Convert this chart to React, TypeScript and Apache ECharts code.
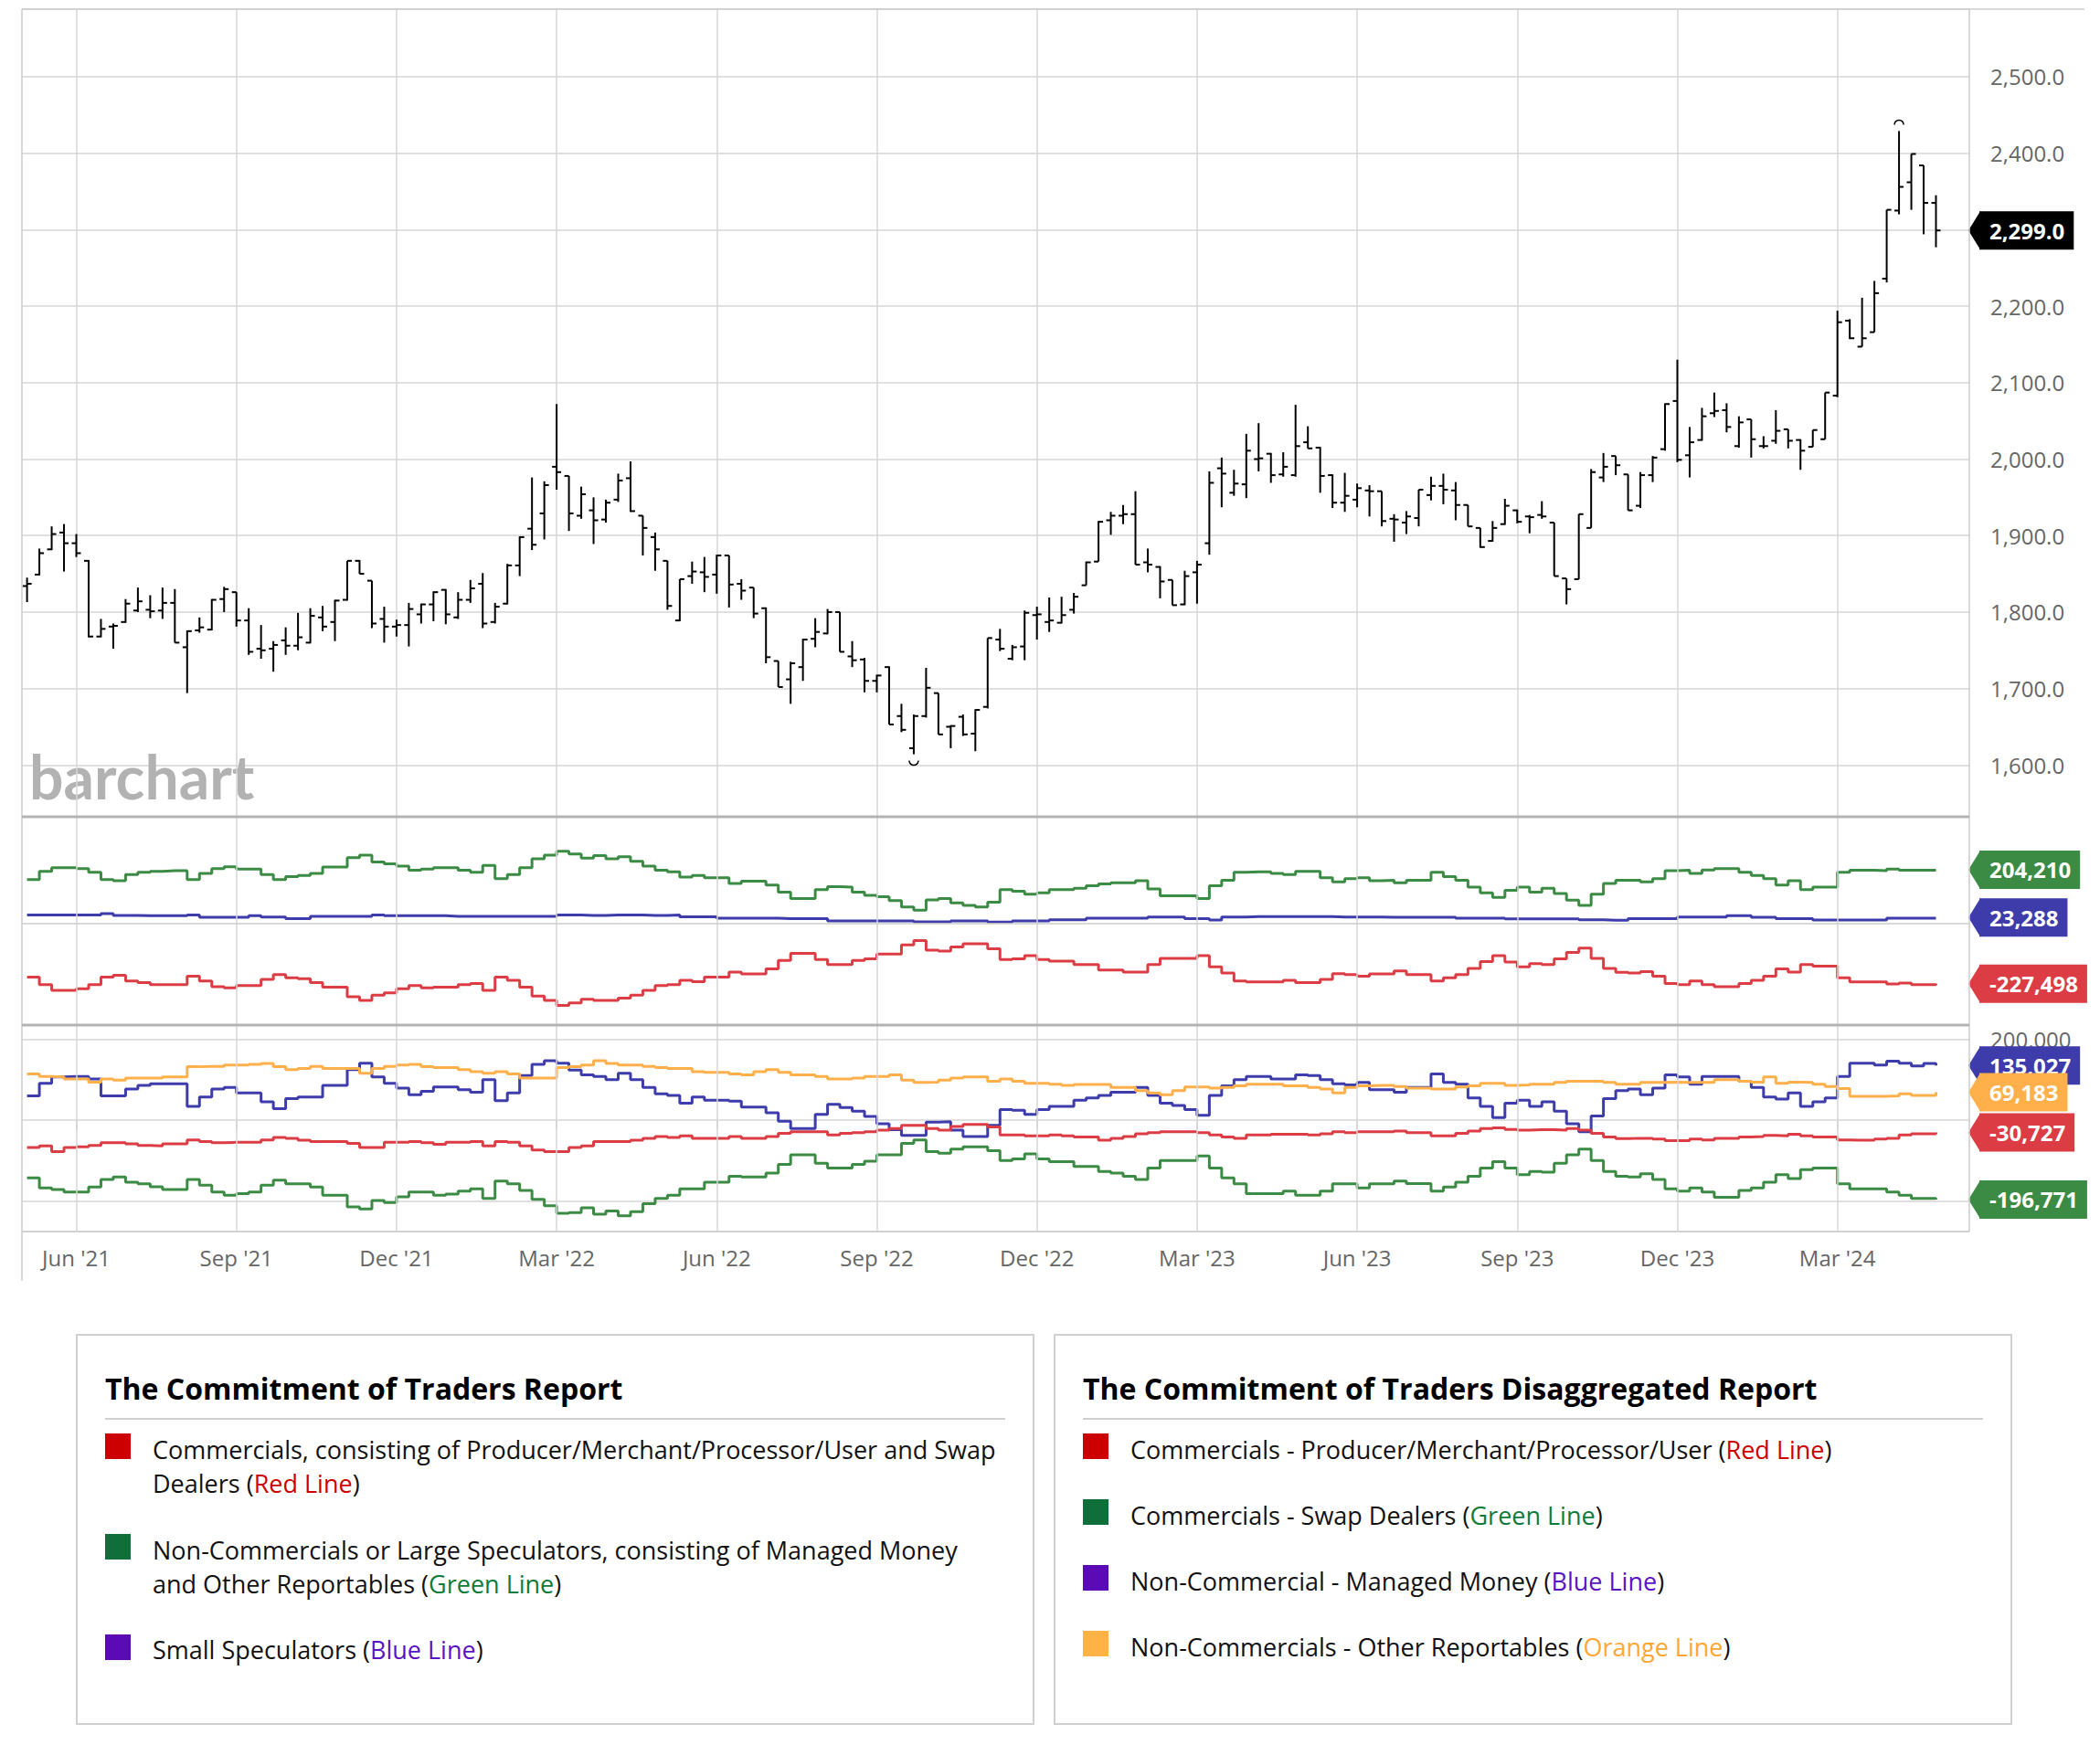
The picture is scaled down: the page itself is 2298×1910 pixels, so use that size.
import React, { useEffect, useRef } from 'react';
import * as echarts from 'echarts';

const DAY = 86400000;

// weekly bars, dated by the Friday that ends each week (first: 7 May 2021)
const firstWeek = Date.UTC(2021, 4, 7);
const xMin = Date.UTC(2021, 5, 4) - 30.91 * DAY;
const xMax = Date.UTC(2024, 2, 1) + 74.96 * DAY;

// grid lines sit on the first weekly bar of each quarter month
const tickDates = [
  Date.UTC(2021, 5, 4), Date.UTC(2021, 8, 3), Date.UTC(2021, 11, 3), Date.UTC(2022, 2, 4),
  Date.UTC(2022, 5, 3), Date.UTC(2022, 8, 2), Date.UTC(2022, 11, 2), Date.UTC(2023, 2, 3),
  Date.UTC(2023, 5, 2), Date.UTC(2023, 8, 1), Date.UTC(2023, 11, 1), Date.UTC(2024, 2, 1),
];
const tickLabels = [
  "Jun '21", "Sep '21", "Dec '21", "Mar '22", "Jun '22", "Sep '22",
  "Dec '22", "Mar '23", "Jun '23", "Sep '23", "Dec '23", "Mar '24",
];

// gold futures, weekly OHLC
const opens = [
  1834, 1849, 1882, 1904, 1890, 1867, 1768, 1781, 1787, 1802,
  1803, 1802, 1812, 1754, 1776, 1777, 1817, 1826, 1789, 1752,
  1752, 1763, 1756, 1760, 1793, 1787, 1816, 1867, 1841, 1791,
  1781, 1783, 1797, 1810, 1829, 1793, 1816, 1837, 1787, 1811,
  1861, 1909, 1929, 1990, 1978, 1926, 1933, 1921, 1947, 1975,
  1926, 1898, 1867, 1789, 1847, 1852, 1849, 1874, 1837, 1832,
  1805, 1736, 1712, 1728, 1765, 1772, 1800, 1742, 1738, 1710,
  1728, 1664, 1622, 1664, 1694, 1650, 1663, 1641, 1676, 1764,
  1739, 1755, 1796, 1787, 1786, 1803, 1835, 1866, 1920, 1926,
  1928, 1865, 1859, 1842, 1810, 1852, 1890, 1988, 1956, 1967,
  2000, 2007, 1980, 1979, 2022, 2015, 1979, 1943, 1947, 1959,
  1958, 1922, 1917, 1923, 1953, 1965, 1959, 1940, 1910, 1893,
  1915, 1933, 1925, 1927, 1917, 1844, 1843, 1910, 1976, 2004,
  1980, 1939, 1979, 2013, 2076, 2005, 2025, 2060, 2064, 2017,
  2052, 2017, 2024, 2039, 2025, 2016, 2026, 2083, 2181, 2147,
  2166, 2236, 2325, 2362, 2384, 2335,
];
const highs = [
  1845, 1883, 1912, 1915, 1902, 1868, 1791, 1785, 1817, 1832,
  1822, 1832, 1830, 1776, 1793, 1817, 1833, 1826, 1805, 1783,
  1762, 1780, 1799, 1805, 1808, 1816, 1867, 1868, 1841, 1807,
  1790, 1812, 1811, 1827, 1830, 1826, 1842, 1851, 1812, 1863,
  1899, 1976, 1971, 2072, 1978, 1964, 1950, 1947, 1981, 1997,
  1926, 1904, 1867, 1843, 1866, 1872, 1875, 1874, 1843, 1832,
  1806, 1736, 1735, 1765, 1792, 1804, 1800, 1762, 1740, 1718,
  1729, 1680, 1666, 1727, 1694, 1652, 1666, 1673, 1766, 1778,
  1757, 1802, 1807, 1819, 1820, 1825, 1866, 1919, 1931, 1940,
  1958, 1883, 1860, 1842, 1854, 1867, 1984, 2002, 1986, 2033,
  2047, 2008, 2009, 2071, 2043, 2016, 1980, 1982, 1968, 1966,
  1958, 1928, 1932, 1960, 1977, 1981, 1970, 1940, 1910, 1919,
  1948, 1934, 1927, 1945, 1917, 1844, 1928, 1987, 2008, 2004,
  1980, 1983, 2004, 2073, 2130, 2042, 2067, 2087, 2073, 2056,
  2052, 2030, 2064, 2039, 2026, 2038, 2087, 2194, 2183, 2211,
  2233, 2326, 2429, 2399, 2384, 2345,
];
const lows = [
  1813, 1848, 1881, 1853, 1872, 1767, 1767, 1752, 1786, 1800,
  1792, 1791, 1760, 1694, 1773, 1776, 1800, 1781, 1744, 1739,
  1722, 1744, 1750, 1759, 1775, 1762, 1815, 1850, 1779, 1760,
  1768, 1755, 1785, 1788, 1784, 1791, 1812, 1779, 1785, 1810,
  1847, 1881, 1895, 1960, 1906, 1922, 1889, 1917, 1944, 1931,
  1874, 1854, 1803, 1788, 1837, 1826, 1824, 1806, 1816, 1792,
  1733, 1702, 1680, 1710, 1754, 1771, 1748, 1728, 1695, 1695,
  1653, 1643, 1614, 1662, 1640, 1622, 1638, 1618, 1674, 1749,
  1737, 1737, 1764, 1774, 1785, 1798, 1835, 1866, 1901, 1915,
  1862, 1852, 1818, 1809, 1809, 1811, 1875, 1937, 1952, 1949,
  1984, 1969, 1977, 1977, 2014, 1956, 1936, 1931, 1937, 1925,
  1912, 1892, 1902, 1912, 1946, 1941, 1920, 1912, 1884, 1892,
  1914, 1916, 1903, 1922, 1847, 1810, 1843, 1910, 1970, 1979,
  1933, 1936, 1970, 2011, 1996, 1976, 2024, 2055, 2035, 2015,
  2002, 2014, 2020, 2014, 1986, 2016, 2026, 2081, 2157, 2147,
  2166, 2231, 2320, 2326, 2294, 2277,
];
const closes = [
  1837, 1877, 1902, 1890, 1877, 1768, 1778, 1782, 1811, 1814,
  1801, 1812, 1760, 1775, 1780, 1816, 1830, 1789, 1748, 1750,
  1757, 1756, 1767, 1795, 1781, 1815, 1867, 1850, 1785, 1781,
  1783, 1804, 1810, 1826, 1797, 1816, 1831, 1785, 1807, 1861,
  1898, 1888, 1966, 1983, 1929, 1954, 1920, 1943, 1972, 1932,
  1910, 1882, 1808, 1843, 1853, 1846, 1874, 1836, 1828, 1798,
  1741, 1702, 1733, 1764, 1774, 1800, 1748, 1737, 1710, 1717,
  1653, 1646, 1664, 1701, 1640, 1651, 1640, 1672, 1766, 1752,
  1754, 1799, 1797, 1789, 1796, 1820, 1865, 1918, 1926, 1928,
  1862, 1862, 1840, 1809, 1847, 1862, 1969, 1981, 1968, 2011,
  2001, 1979, 1990, 2017, 2014, 1978, 1943, 1952, 1962, 1958,
  1919, 1921, 1925, 1960, 1965, 1960, 1940, 1912, 1885, 1910,
  1939, 1918, 1924, 1925, 1847, 1830, 1928, 1983, 1990, 1992,
  1933, 1979, 2002, 2072, 1999, 2022, 2056, 2063, 2042, 2048,
  2026, 2017, 2037, 2024, 2011, 2038, 2087, 2179, 2158, 2158,
  2217, 2326, 2356, 2399, 2335, 2299,
];

// Commitment of Traders (legacy), thousands of contracts
const nonCommK = [
  167, 198, 212, 212, 208, 194, 167, 162, 186, 194,
  198, 200, 200, 167, 190, 208, 215, 206, 206, 186,
  167, 178, 182, 190, 214, 214, 250, 259, 233, 226,
  218, 202, 206, 212, 212, 202, 194, 220, 170, 186,
  212, 245, 259, 274, 263, 248, 257, 245, 253, 236,
  218, 202, 196, 176, 182, 174, 174, 152, 161, 161,
  146, 119, 95, 95, 129, 140, 138, 119, 107, 102,
  87, 63, 51, 90, 95, 79, 69, 63, 81, 129,
  123, 111, 117, 129, 129, 134, 143, 150, 155, 155,
  162, 131, 105, 105, 105, 95, 143, 164, 194, 196,
  196, 190, 186, 198, 198, 174, 158, 170, 174, 162,
  164, 155, 164, 164, 194, 178, 164, 138, 117, 99,
  126, 138, 119, 134, 114, 89, 69, 111, 152, 164,
  164, 158, 170, 200, 202, 190, 203, 208, 208, 194,
  182, 170, 146, 162, 129, 138, 138, 194, 202, 202,
  200, 206, 202, 202, 202, 204.21,
];
const smallSpecK = [
  33, 33, 33, 33, 33, 33, 38, 31, 31, 30,
  30, 30, 30, 33, 24, 24, 24, 24, 30, 25,
  25, 19, 19, 28, 28, 28, 28, 28, 33, 30,
  30, 30, 30, 30, 28, 28, 28, 28, 28, 28,
  28, 28, 28, 33, 33, 31, 31, 33, 33, 33,
  31, 31, 33, 26, 26, 26, 21, 21, 21, 21,
  21, 19, 19, 19, 19, 10, 10, 10, 10, 10,
  10, 10, 7, 7, 7, 10, 10, 10, 6, 6,
  10, 10, 10, 15, 15, 15, 21, 21, 21, 21,
  21, 25, 25, 25, 19, 19, 14, 25, 25, 27,
  27, 27, 27, 27, 27, 27, 25, 25, 25, 25,
  24, 24, 24, 24, 24, 24, 21, 21, 21, 21,
  18, 18, 18, 18, 18, 18, 15, 15, 13, 13,
  19, 19, 19, 19, 25, 25, 25, 25, 30, 30,
  24, 24, 19, 19, 19, 14, 14, 14, 14, 14,
  14, 21, 21, 21, 21, 23.288,
];
const commK = [
  -202, -231, -252, -252, -246, -231, -202, -195, -217, -223,
  -231, -231, -231, -199, -217, -238, -243, -234, -234, -211,
  -193, -205, -208, -223, -240, -240, -276, -290, -270, -262,
  -246, -234, -243, -240, -240, -231, -226, -252, -202, -214,
  -240, -274, -290, -309, -300, -286, -290, -290, -282, -270,
  -252, -234, -231, -214, -219, -202, -202, -183, -190, -190,
  -171, -139, -112, -112, -136, -155, -155, -139, -133, -115,
  -115, -80, -64, -100, -104, -88, -76, -76, -95, -136,
  -133, -121, -136, -142, -142, -155, -155, -175, -175, -183,
  -183, -155, -131, -131, -131, -121, -163, -187, -217, -220,
  -220, -220, -214, -223, -223, -211, -189, -193, -199, -190,
  -190, -179, -193, -193, -217, -205, -193, -169, -143, -121,
  -145, -163, -151, -155, -133, -109, -92, -131, -169, -184,
  -187, -181, -199, -226, -231, -217, -231, -238, -238, -226,
  -214, -199, -171, -183, -155, -161, -161, -205, -220, -220,
  -220, -228, -225, -231, -231, -227.498,
];

// Disaggregated report, thousands of contracts
const managedK = [
  60, 91, 107, 108, 108, 102, 60, 60, 77, 86,
  90, 90, 90, 34, 57, 77, 81, 67, 67, 45,
  28, 53, 57, 57, 86, 86, 125, 141, 107, 91,
  79, 63, 71, 82, 82, 75, 69, 100, 48, 67,
  110, 138, 147, 141, 124, 112, 108, 100, 116, 100,
  81, 65, 61, 42, 57, 49, 49, 47, 32, 32,
  18, -3, -21, -21, 14, 39, 31, 22, 9, -9,
  -24, -38, -38, -5, -4, -25, -41, -41, -13, 26,
  24, 14, 26, 34, 34, 49, 55, 61, 69, 69,
  81, 61, 42, 36, 26, 12, 61, 85, 100, 108,
  108, 102, 102, 112, 110, 100, 90, 87, 93, 75,
  75, 69, 81, 81, 114, 93, 89, 55, 34, 6,
  42, 49, 34, 45, 22, -9, -29, 10, 53, 73,
  77, 63, 79, 112, 107, 89, 108, 108, 108, 96,
  81, 57, 52, 67, 34, 45, 55, 108, 141, 141,
  136, 146, 141, 134, 140, 135.027,
];
const otherK = [
  114, 108, 107, 102, 102, 94, 102, 99, 104, 104,
  104, 107, 107, 132, 133, 133, 136, 136, 138, 140,
  132, 125, 128, 133, 128, 128, 128, 116, 128, 133,
  136, 138, 132, 130, 130, 125, 120, 116, 120, 114,
  104, 104, 104, 130, 132, 136, 147, 140, 136, 136,
  133, 130, 128, 128, 120, 118, 118, 114, 112, 120,
  125, 118, 112, 112, 108, 102, 102, 104, 108, 108,
  112, 99, 93, 94, 99, 104, 107, 107, 96, 102,
  96, 91, 91, 89, 86, 88, 88, 88, 81, 81,
  73, 67, 63, 73, 82, 82, 79, 81, 85, 89,
  89, 89, 85, 85, 81, 77, 67, 81, 85, 86,
  86, 83, 79, 79, 77, 77, 82, 85, 91, 91,
  86, 87, 89, 89, 93, 96, 96, 96, 93, 89,
  89, 93, 93, 94, 93, 93, 93, 100, 100, 96,
  94, 107, 91, 94, 93, 89, 83, 78, 59, 59,
  59, 60, 65, 61, 61, 69.183,
];
const producerK = [
  -68, -64, -78, -68, -66, -63, -56, -56, -59, -63,
  -64, -59, -59, -49, -53, -56, -55, -55, -55, -49,
  -43, -45, -50, -53, -53, -53, -58, -68, -68, -55,
  -55, -53, -56, -60, -55, -55, -53, -64, -53, -55,
  -64, -74, -78, -78, -68, -64, -53, -53, -53, -50,
  -45, -41, -43, -39, -45, -45, -45, -41, -45, -45,
  -41, -33, -29, -29, -29, -37, -33, -31, -29, -25,
  -21, -13, -13, -21, -25, -16, -11, -11, -17, -37,
  -37, -39, -39, -37, -39, -42, -42, -50, -45, -41,
  -34, -31, -29, -29, -29, -31, -37, -42, -45, -37,
  -37, -35, -35, -35, -37, -34, -29, -31, -29, -29,
  -29, -27, -31, -31, -39, -39, -33, -27, -21, -19,
  -23, -25, -24, -24, -25, -21, -25, -33, -42, -46,
  -45, -45, -47, -51, -51, -47, -49, -45, -45, -42,
  -41, -38, -39, -35, -39, -42, -42, -49, -50, -50,
  -47, -45, -37, -34, -34, -30.727,
];
const swapK = [
  -143, -168, -172, -178, -178, -166, -147, -141, -154, -158,
  -165, -172, -172, -147, -161, -178, -186, -182, -178, -161,
  -149, -158, -158, -166, -186, -186, -215, -220, -199, -204,
  -190, -178, -178, -186, -183, -176, -170, -194, -151, -158,
  -174, -196, -212, -231, -229, -217, -233, -225, -237, -227,
  -207, -194, -186, -170, -170, -154, -154, -139, -141, -141,
  -131, -110, -86, -86, -107, -119, -119, -110, -102, -86,
  -86, -58, -49, -78, -82, -72, -66, -66, -76, -100,
  -96, -84, -96, -103, -103, -115, -115, -127, -131, -139,
  -147, -119, -100, -100, -100, -89, -119, -143, -158, -182,
  -182, -182, -176, -186, -186, -176, -158, -158, -168, -158,
  -158, -151, -157, -157, -176, -166, -154, -139, -119, -103,
  -119, -135, -127, -129, -107, -86, -72, -100, -127, -139,
  -141, -133, -147, -170, -176, -168, -178, -191, -191, -174,
  -168, -154, -135, -145, -123, -119, -119, -158, -170, -170,
  -170, -178, -186, -194, -194, -196.771,
];

const GREEN = '#3c8b45';
const BLUE = '#3e3bab';
const RED = '#dc3c44';
const ORANGE = '#ffb04b';
const GRID_LINE = '#d6d6d6';
const FONT = '"Open Sans", "Noto Sans", sans-serif';

const legacyLegend = [
  { color: '#cc0000', lines: ['Commercials, consisting of Producer/Merchant/Processor/User and Swap', 'Dealers'], tag: 'Red Line', tagColor: '#cc0000' },
  { color: '#0f6e3a', lines: ['Non-Commercials or Large Speculators, consisting of Managed Money', 'and Other Reportables'], tag: 'Green Line', tagColor: '#0f7a3a' },
  { color: '#5a0bb5', lines: ['Small Speculators'], tag: 'Blue Line', tagColor: '#5a14c4' },
];
const disaggLegend = [
  { color: '#cc0000', lines: ['Commercials - Producer/Merchant/Processor/User'], tag: 'Red Line', tagColor: '#cc0000' },
  { color: '#0f6e3a', lines: ['Commercials - Swap Dealers'], tag: 'Green Line', tagColor: '#0f7a3a' },
  { color: '#5a0bb5', lines: ['Non-Commercial - Managed Money'], tag: 'Blue Line', tagColor: '#5a14c4' },
  { color: '#ffb347', lines: ['Non-Commercials - Other Reportables'], tag: 'Orange Line', tagColor: '#ffa733' },
];

const fmt = (v: number, d: number) =>
  v.toLocaleString('en-US', { minimumFractionDigits: d, maximumFractionDigits: d });

const weeks = opens.map((_, i) => firstWeek + i * 7 * DAY);
const lastWeek = weeks[weeks.length - 1];
const toSeries = (vals: number[]) => vals.map((v, i) => [weeks[i], Math.round(v * 1000)]);
const last = (vals: number[]) => Math.round(vals[vals.length - 1] * 1000);

const ChartPanel: React.FC = () => {
  const ref = useRef<HTMLDivElement>(null);

  useEffect(() => {
    if (!ref.current) return;
    const chart = echarts.init(ref.current, undefined, { renderer: 'svg' });

    const maxIdx = highs.indexOf(Math.max(...highs));
    const minIdx = lows.indexOf(Math.min(...lows));
    const ohlc = weeks.map((t, i) => [t, opens[i], highs[i], lows[i], closes[i]]);

    const barStyle = { stroke: '#000', lineWidth: 2 };

    const tagSeries = (axis: number, items: { value: number; text: string; color: string }[]) => ({
      type: 'custom',
      xAxisIndex: axis,
      yAxisIndex: axis,
      clip: false,
      z: 10,
      silent: true,
      data: items.map((it) => [lastWeek, it.value]),
      renderItem: (params: any, api: any) => {
        const it = items[params.dataIndex];
        const y = api.coord([api.value(0), api.value(1)])[1];
        const x0 = params.coordSys.x + params.coordSys.width - 1;
        return {
          type: 'group',
          children: [
            { type: 'polygon', shape: { points: [[x0, y], [x0 + 13, y - 21], [x0 + 13, y + 21]] }, style: { fill: it.color } },
            {
              type: 'text',
              x: x0 + 12,
              y,
              style: {
                text: it.text,
                fill: '#fff',
                backgroundColor: it.color,
                padding: [8, 10, 8, 11],
                fontSize: 24,
                fontWeight: 700,
                fontFamily: FONT,
                lineHeight: 26,
                align: 'left',
                verticalAlign: 'middle',
              },
            },
          ],
        };
      },
    });

    const stepLine = (axis: number, vals: number[], color: string, extra: any = {}) => ({
      type: 'line',
      xAxisIndex: axis,
      yAxisIndex: axis,
      step: 'end',
      showSymbol: false,
      symbol: 'none',
      silent: true,
      z: 3,
      lineStyle: { color, width: 3 },
      data: toSeries(vals),
      ...extra,
    });

    const xAxisBase = (i: number) => ({
      type: 'value',
      gridIndex: i,
      min: xMin,
      max: xMax,
      show: i === 2,
      axisLine: { show: false },
      splitLine: { show: false },
      axisTick: { show: i === 2, customValues: tickDates, length: 10, lineStyle: { color: '#cccccc', width: 1.5 } },
      axisLabel: {
        show: i === 2,
        customValues: tickDates,
        formatter: (v: number) => {
          const k = tickDates.findIndex((t) => Math.abs(t - v) < DAY);
          return k >= 0 ? tickLabels[k] : '';
        },
        color: '#666',
        fontSize: 24,
        fontFamily: FONT,
        margin: 16,
      },
    });

    const option: any = {
      animation: false,
      grid: [
        { left: 24, right: 143, top: 10, height: 884 },
        { left: 24, right: 143, top: 894, height: 228 },
        { left: 24, right: 143, top: 1122, height: 226 },
        { left: 24, right: 143, top: 10, height: 1338 },
      ],
      xAxis: [0, 1, 2, 3].map(xAxisBase),
      yAxis: [
        {
          type: 'value',
          gridIndex: 0,
          position: 'right',
          min: 1532.3,
          max: 2588.4,
          splitNumber: 10,
          axisLine: { show: false },
          axisTick: { show: false },
          splitLine: { lineStyle: { color: GRID_LINE, width: 1.5 } },
          axisLabel: {
            showMinLabel: false,
            showMaxLabel: false,
            margin: 23,
            color: '#666',
            fontSize: 24,
            fontFamily: FONT,
            formatter: (v: number) => fmt(v, 1),
          },
        },
        {
          type: 'value',
          gridIndex: 1,
          position: 'right',
          min: -383500,
          max: 404200,
          axisLine: { show: false },
          axisTick: { show: false },
          splitLine: { show: false },
          axisLabel: { show: false },
        },
        {
          type: 'value',
          gridIndex: 2,
          position: 'right',
          min: -276000,
          max: 235200,
          splitNumber: 3,
          axisLine: { show: false },
          axisTick: { show: false },
          splitLine: { lineStyle: { color: GRID_LINE, width: 1.5 } },
          axisLabel: {
            margin: 23,
            color: '#666',
            fontSize: 24,
            fontFamily: FONT,
            formatter: (v: number) => (v === 200000 ? fmt(v, 0) : ''),
          },
        },
        { type: 'value', gridIndex: 3, min: 0, max: 1, show: false },
      ],
      series: [
        {
          type: 'line',
          xAxisIndex: 3,
          yAxisIndex: 3,
          data: [[xMin, 0]],
          symbol: 'none',
          silent: true,
          z: 1,
          lineStyle: { opacity: 0 },
          markLine: {
            silent: true,
            symbol: ['none', 'none'],
            label: { show: false },
            lineStyle: { color: GRID_LINE, width: 1.5, type: 'solid' },
            data: tickDates.map((t) => ({ xAxis: t })),
          },
        },
        {
          type: 'custom',
          xAxisIndex: 0,
          yAxisIndex: 0,
          z: 5,
          silent: true,
          encode: { x: 0, y: [1, 2, 3, 4] },
          data: ohlc,
          renderItem: (params: any, api: any) => {
            const t = api.value(0);
            const pO = api.coord([t, api.value(1)]);
            const pH = api.coord([t, api.value(2)]);
            const pL = api.coord([t, api.value(3)]);
            const pC = api.coord([t, api.value(4)]);
            const children: any[] = [
              { type: 'line', shape: { x1: pH[0], y1: pH[1], x2: pL[0], y2: pL[1] }, style: barStyle },
              { type: 'line', shape: { x1: pO[0] - 5, y1: pO[1], x2: pO[0], y2: pO[1] }, style: barStyle },
              { type: 'line', shape: { x1: pC[0], y1: pC[1], x2: pC[0] + 5, y2: pC[1] }, style: barStyle },
            ];
            if (params.dataIndex === maxIdx) {
              children.push({ type: 'arc', shape: { cx: pH[0], cy: pH[1] - 7, r: 5, startAngle: Math.PI, endAngle: Math.PI * 2, clockwise: true }, style: { stroke: '#000', lineWidth: 1.5, fill: null } });
            }
            if (params.dataIndex === minIdx) {
              children.push({ type: 'arc', shape: { cx: pL[0], cy: pL[1] + 7, r: 5, startAngle: 0, endAngle: Math.PI, clockwise: true }, style: { stroke: '#000', lineWidth: 1.5, fill: null } });
            }
            return { type: 'group', children };
          },
        },
        stepLine(1, nonCommK, GREEN, {
          markLine: {
            silent: true,
            symbol: ['none', 'none'],
            label: { show: false },
            lineStyle: { color: '#cccccc', width: 1.5, type: 'solid' },
            data: [{ yAxis: 0 }],
          },
        }),
        stepLine(1, smallSpecK, BLUE),
        stepLine(1, commK, RED),
        stepLine(2, managedK, BLUE),
        stepLine(2, otherK, ORANGE),
        stepLine(2, producerK, RED),
        stepLine(2, swapK, GREEN),
        tagSeries(0, [{ value: closes[closes.length - 1], text: fmt(closes[closes.length - 1], 1), color: '#000' }]),
        tagSeries(1, [
          { value: last(nonCommK), text: fmt(last(nonCommK), 0), color: GREEN },
          { value: last(smallSpecK), text: fmt(last(smallSpecK), 0), color: BLUE },
          { value: last(commK), text: fmt(last(commK), 0), color: RED },
        ]),
        tagSeries(2, [
          { value: last(managedK), text: fmt(last(managedK), 0), color: BLUE },
          { value: last(otherK), text: fmt(last(otherK), 0), color: ORANGE },
          { value: last(producerK), text: fmt(last(producerK), 0), color: RED },
          { value: last(swapK), text: fmt(last(swapK), 0), color: GREEN },
        ]),
      ],
      graphic: [
        { type: 'text', left: 32, top: 816, z: 1, silent: true, style: { text: 'barchart', fill: '#b2b2b2', fontSize: 66, fontWeight: 700, fontFamily: 'Lato, "Open Sans", sans-serif' } },
        { type: 'line', z: 20, silent: true, shape: { x1: 24, y1: 10, x2: 2281, y2: 10 }, style: { stroke: '#cccccc', lineWidth: 1.5 } },
        { type: 'line', z: 20, silent: true, shape: { x1: 24, y1: 10, x2: 24, y2: 1402 }, style: { stroke: '#cccccc', lineWidth: 1.5 } },
        { type: 'line', z: 20, silent: true, shape: { x1: 2155, y1: 10, x2: 2155, y2: 1348 }, style: { stroke: '#cccccc', lineWidth: 1.5 } },
        { type: 'line', z: 20, silent: true, shape: { x1: 24, y1: 1348, x2: 2155, y2: 1348 }, style: { stroke: '#cccccc', lineWidth: 1.5 } },
        { type: 'line', z: 20, silent: true, shape: { x1: 24, y1: 894, x2: 2155, y2: 894 }, style: { stroke: '#b3b3b3', lineWidth: 3 } },
        { type: 'line', z: 20, silent: true, shape: { x1: 24, y1: 1122, x2: 2155, y2: 1122 }, style: { stroke: '#b3b3b3', lineWidth: 3 } },
      ],
    };

    chart.setOption(option);
    return () => {
      chart.dispose();
    };
  }, []);

  return <div ref={ref} style={{ position: 'absolute', left: 0, top: 0, width: 2298, height: 1420 }} />;
};

type LegendItem = { color: string; lines: string[]; tag: string; tagColor: string };

const LegendBox: React.FC<{ left: number; title: string; items: LegendItem[]; gap: number }> = ({ left, title, items, gap }) => (
  <div style={{ ...styles.box, left }}>
    <div style={styles.title}>{title}</div>
    <div style={styles.divider} />
    {items.map((it, i) => {
      const top = 105.8 + items.slice(0, i).reduce((s, p) => s + p.lines.length * 37.5 + gap, 0);
      return (
        <div key={i} style={{ position: 'absolute', left: 30, top }}>
          <div style={{ ...styles.marker, backgroundColor: it.color }} />
          <div style={styles.itemText}>
            {it.lines.map((ln, j) => (
              <div key={j}>
                {ln}
                {j === it.lines.length - 1 && (
                  <>
                    {' ('}
                    <span style={{ color: it.tagColor }}>{it.tag}</span>
                    {')'}
                  </>
                )}
              </div>
            ))}
          </div>
        </div>
      );
    })}
  </div>
);

export default function App() {
  return (
    <div style={styles.page}>
      <ChartPanel />
      <LegendBox left={83} title="The Commitment of Traders Report" items={legacyLegend} gap={34.8} />
      <LegendBox left={1153} title="The Commitment of Traders Disaggregated Report" items={disaggLegend} gap={34.5} />
    </div>
  );
}

const styles: Record<string, React.CSSProperties> = {
  page: {
    position: 'absolute',
    left: 0,
    top: 0,
    width: 2298,
    height: 1910,
    overflow: 'hidden',
    background: '#fff',
    fontFamily: FONT,
  },
  box: {
    position: 'absolute',
    top: 1460,
    width: 1049,
    height: 428,
    boxSizing: 'border-box',
    border: '2px solid #d0d0d0',
  },
  title: {
    position: 'absolute',
    left: 30,
    top: 37.6,
    fontSize: 32,
    lineHeight: '40px',
    fontWeight: 700,
    color: '#000',
    whiteSpace: 'nowrap',
  },
  divider: {
    position: 'absolute',
    left: 30,
    top: 90,
    width: 985,
    height: 2,
    backgroundColor: '#d0d0d0',
  },
  marker: {
    position: 'absolute',
    left: 0,
    top: 1.5,
    width: 28,
    height: 28,
  },
  itemText: {
    position: 'absolute',
    left: 52,
    top: 0,
    fontSize: 27,
    lineHeight: '37.5px',
    color: '#111',
    whiteSpace: 'nowrap',
  },
};
